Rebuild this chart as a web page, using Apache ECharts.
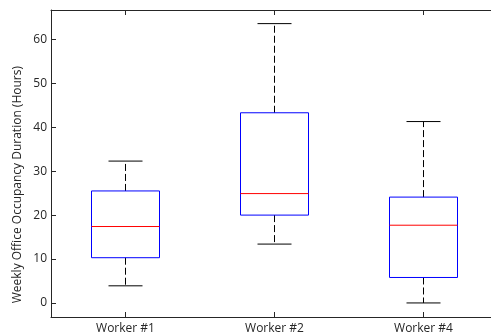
<!DOCTYPE html>
<html><head><meta charset="utf-8">
<script src="https://cdn.jsdelivr.net/npm/echarts@6/dist/echarts.min.js"></script>
<style>html,body{margin:0;padding:0;background:#fff;overflow:hidden}#c{width:500px;height:335px}</style>
</head><body><div id="c"></div>
<script>
const categories = ['Worker #1', 'Worker #2', 'Worker #4'];
const lowerWhisker = [3.9, 13.4, 0.0];
const q1 = [10.3, 20.0, 5.8];
const median = [17.4, 24.9, 17.7];
const q3 = [25.5, 43.3, 24.1];
const upperWhisker = [32.3, 63.6, 41.3];
const yTitle = 'Weekly Office Occupancy Duration (Hours)';

const data = categories.map((c, i) => [i, lowerWhisker[i], q1[i], median[i], q3[i], upperWhisker[i]]);
const font = 'Open Sans, Noto Sans, sans-serif';
const axisColor = '#262626';
const px = v => Math.round(v - 0.5) + 0.5;

const chart = echarts.init(document.getElementById('c'), null, {renderer: 'canvas'});
chart.setOption({
  animation: false,
  backgroundColor: '#fff',
  grid: {left: 51, top: 10, width: 447, height: 308, containLabel: false},
  xAxis: [{
    type: 'category', data: categories, position: 'bottom', boundaryGap: true,
    axisLine: {onZero: false, lineStyle: {color: axisColor, width: 1}},
    axisTick: {show: true, inside: true, length: 5, alignWithLabel: true, lineStyle: {color: axisColor}},
    axisLabel: {color: axisColor, fontSize: 12, fontFamily: font, margin: 6},
    splitLine: {show: false}
  }, {
    type: 'category', data: categories, position: 'top', boundaryGap: true,
    axisLine: {onZero: false, lineStyle: {color: axisColor, width: 1}},
    axisTick: {show: true, inside: true, length: 5, alignWithLabel: true, lineStyle: {color: axisColor}},
    axisLabel: {show: false},
    splitLine: {show: false}
  }],
  yAxis: {
    type: 'value', min: -3.2, max: 66.7, splitNumber: 7,
    axisLine: {show: true, onZero: false, lineStyle: {color: axisColor, width: 1}},
    axisTick: {show: true, inside: true, length: 5, lineStyle: {color: axisColor}},
    axisLabel: {color: axisColor, fontSize: 12, fontFamily: font, margin: 4, showMinLabel: false, showMaxLabel: false},
    splitLine: {show: false}
  },
  graphic: [{
    type: 'text', left: 12, top: 66, rotation: Math.PI / 2,
    style: {text: yTitle, fill: axisColor, font: '12px ' + font}
  }],
  series: [{
    type: 'custom',
    data: data,
    encode: {x: 0, y: [1, 2, 3, 4, 5]},
    renderItem: function (params, api) {
      const i = api.value(0);
      const bw = api.size([1, 0])[0] * 0.45;
      const cw = bw / 2;
      const yLo = api.coord([i, api.value(1)])[1];
      const yQ1 = api.coord([i, api.value(2)])[1];
      const yMed = api.coord([i, api.value(3)])[1];
      const yQ3 = api.coord([i, api.value(4)])[1];
      const yHi = api.coord([i, api.value(5)])[1];
      const x = px(api.coord([i, api.value(3)])[0]);
      const bl = px(x - bw / 2), br = px(x + bw / 2);
      const cl = px(x - cw / 2), cr = px(x + cw / 2);
      const dash = {stroke: '#000', lineWidth: 1, lineDash: [7, 3]};
      const solid = {stroke: '#000', lineWidth: 1};
      return {type: 'group', children: [
        {type: 'line', shape: {x1: x, y1: yQ3, x2: x, y2: yHi}, style: dash},
        {type: 'line', shape: {x1: x, y1: yQ1, x2: x, y2: yLo}, style: dash},
        {type: 'line', shape: {x1: cl, y1: yHi, x2: cr, y2: yHi}, style: solid},
        {type: 'line', shape: {x1: cl, y1: yLo, x2: cr, y2: yLo}, style: solid},
        {type: 'rect', shape: {x: bl, y: yQ3, width: br - bl, height: yQ1 - yQ3}, style: {fill: 'none', stroke: '#0000ff', lineWidth: 1}},
        {type: 'line', shape: {x1: bl, y1: yMed, x2: br, y2: yMed}, style: {stroke: '#ff0000', lineWidth: 1}}
      ]};
    }
  }]
});
</script></body></html>
